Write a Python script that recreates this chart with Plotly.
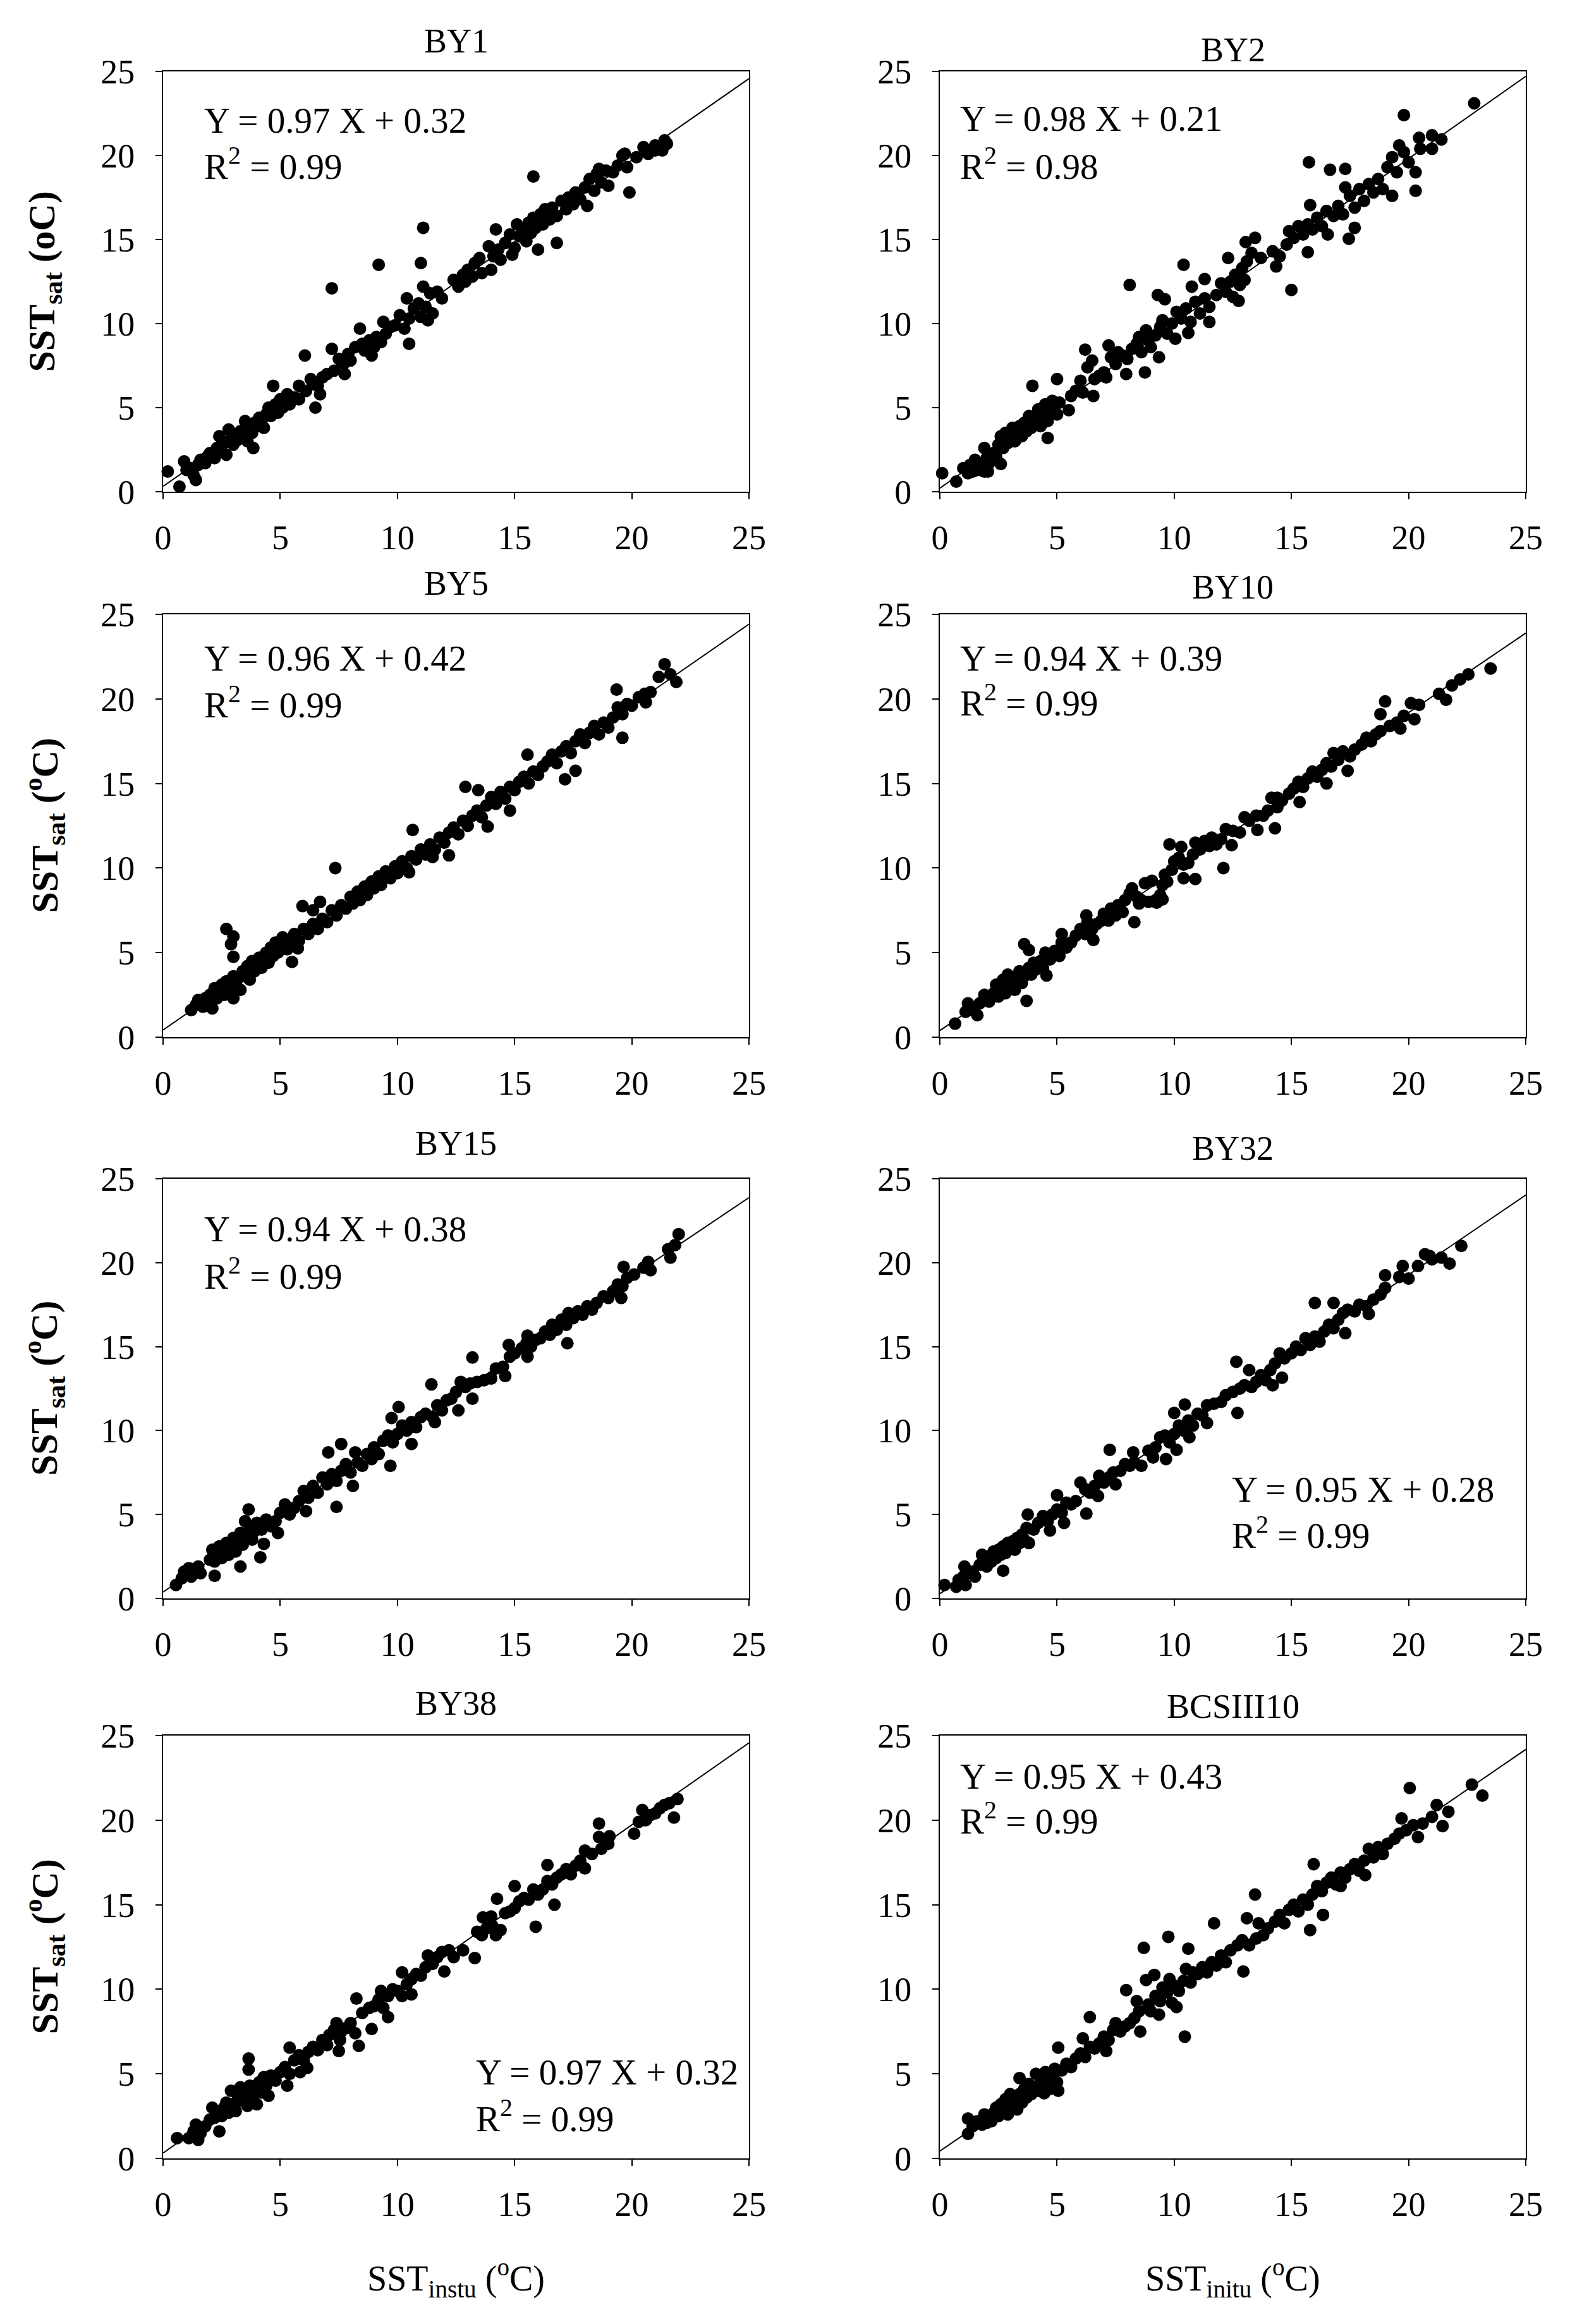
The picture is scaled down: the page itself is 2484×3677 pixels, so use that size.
import plotly.graph_objects as go

W, H = 2484, 3677

titles = ["BY1", "BY2", "BY5", "BY10", "BY15", "BY32", "BY38", "BCSIII10"]
slopes = [0.97, 0.98, 0.96, 0.94, 0.94, 0.95, 0.97, 0.95]
intercepts = [0.32, 0.21, 0.42, 0.39, 0.38, 0.28, 0.32, 0.43]
r2_values = [0.99, 0.98, 0.99, 0.99, 0.99, 0.99, 0.99, 0.99]
tick_vals = [0, 5, 10, 15, 20, 25]

# (SST in situ, SST satellite) pairs
by1 = [(0.2, 1.2), (0.7, 0.3), (0.9, 1.8), (1.4, 0.7), (15.8, 18.75), (11.1, 15.7), (9.2, 13.5),
       (11.0, 13.6), (7.2, 12.1), (7.2, 8.5), (6.05, 8.1), (6.5, 5.0), (4.7, 6.3), (3.85, 2.6),
       (19.9, 17.8), (16.8, 14.8), (16.0, 14.4), (10.5, 8.8), (7.75, 7.0), (21.4, 20.9),
       (21.0, 20.3), (19.7, 20.1), (18.6, 19.2), (11.3, 10.2), (14.9, 14.1), (14.2, 15.6),
       (1.0, 1.3), (1.2, 1.4), (1.3, 1.0), (1.5, 1.6), (1.6, 1.9), (1.8, 1.7), (1.9, 2.1),
       (2.0, 2.3), (2.2, 2.0), (2.3, 2.6), (2.4, 3.3), (2.5, 2.4), (2.6, 2.9), (2.7, 2.2),
       (2.8, 3.0), (2.8, 3.7), (3.0, 2.8), (3.1, 3.4), (3.2, 3.1), (3.3, 3.6), (3.4, 3.3),
       (3.5, 4.2), (3.6, 3.0), (3.7, 3.8), (3.8, 3.5), (3.9, 4.1), (4.0, 3.9), (4.1, 4.4),
       (4.2, 4.2), (4.3, 3.8), (4.4, 4.6), (4.5, 5.0), (4.6, 4.5), (4.7, 4.8), (4.8, 5.2),
       (4.9, 4.7), (5.0, 5.5), (5.1, 5.0), (5.2, 5.3), (5.3, 5.8), (5.4, 5.2), (5.6, 5.6),
       (5.8, 6.3), (5.8, 5.5), (6.1, 6.0), (6.3, 6.7), (6.4, 6.4), (6.6, 6.3), (6.7, 5.8),
       (6.8, 6.8), (7.0, 7.0), (7.3, 7.2), (7.5, 7.9), (7.7, 7.6), (7.9, 8.2), (8.0, 7.8),
       (8.2, 8.6), (8.4, 9.7), (8.5, 8.8), (8.6, 8.4), (8.8, 9.0), (8.9, 8.1), (9.0, 8.6),
       (9.1, 9.2), (9.3, 8.9), (9.4, 10.1), (9.5, 9.4), (9.7, 9.8), (9.9, 9.9), (10.1, 10.5),
       (10.3, 9.7), (10.4, 11.5), (10.5, 10.3), (10.7, 10.9), (10.9, 11.2), (11.0, 10.4),
       (11.1, 12.2), (11.2, 11.0), (11.4, 11.8), (11.5, 10.6), (11.7, 11.9), (11.9, 11.5),
       (12.4, 12.6), (12.6, 12.2), (12.8, 12.9), (12.9, 12.5), (13.0, 13.2), (13.2, 12.8),
       (13.3, 13.6), (13.5, 13.9), (13.6, 13.0), (13.9, 14.6), (14.0, 13.2), (14.1, 14.0),
       (14.3, 14.4), (14.4, 13.8), (14.6, 14.8), (14.8, 15.3), (15.0, 14.5), (15.1, 15.9),
       (15.2, 15.2), (15.4, 15.7), (15.5, 14.9), (15.6, 16.0), (15.7, 15.4), (15.8, 16.3),
       (15.9, 15.7), (16.1, 16.5), (16.2, 15.9), (16.3, 16.8), (16.5, 16.2), (16.6, 16.9),
       (16.8, 16.4), (17.0, 17.3), (17.2, 16.8), (17.3, 17.5), (17.5, 17.1), (17.6, 17.8),
       (17.8, 17.4), (18.0, 18.1), (18.1, 17.0), (18.2, 18.6), (18.4, 17.9), (18.5, 18.9),
       (18.7, 18.4), (18.9, 19.1), (19.0, 18.2), (19.2, 19.0), (19.4, 19.4), (19.6, 20.0),
       (19.8, 19.3), (20.2, 19.9), (20.5, 20.5), (20.7, 20.1), (21.0, 20.6), (21.3, 20.3),
       (21.5, 20.7)]

by2 = [(0.1, 1.1), (0.7, 0.6), (22.8, 23.1), (19.8, 22.4), (15.75, 19.6), (16.65, 19.15),
       (17.3, 19.2), (20.3, 17.9), (20.3, 19.0), (20.5, 20.4), (20.45, 21.05), (21.0, 21.2),
       (21.0, 20.4), (21.4, 20.95), (20.0, 19.6), (19.3, 17.6), (15.8, 17.05), (15.0, 12.0),
       (10.4, 13.5), (8.1, 12.3), (9.3, 11.7), (9.6, 11.45), (6.2, 8.45), (3.95, 6.3),
       (5.0, 6.7), (4.6, 3.2), (2.6, 1.65), (2.05, 1.2), (8.75, 7.1), (16.55, 15.3),
       (17.45, 15.05), (17.7, 15.7), (15.7, 14.25), (14.35, 13.4), (13.45, 15.1), (13.05, 14.85),
       (12.3, 13.9), (12.75, 11.35), (11.5, 10.1), (10.05, 9.1), (10.6, 9.45), (9.35, 8.0),
       (11.3, 12.65), (10.75, 12.2), (7.95, 7.0), (6.55, 5.7), (5.5, 4.85),
       (1.0, 1.4), (1.2, 1.1), (1.3, 1.6), (1.4, 1.2), (1.5, 1.9), (1.6, 1.3), (1.7, 1.5),
       (1.9, 1.2), (1.9, 2.6), (2.0, 2.0), (2.1, 1.7), (2.3, 2.3), (2.4, 2.1), (2.5, 2.8),
       (2.6, 3.3), (2.7, 2.6), (2.8, 3.5), (2.9, 2.9), (3.0, 3.2), (3.1, 3.8), (3.2, 3.0),
       (3.3, 3.5), (3.4, 3.9), (3.5, 3.3), (3.6, 4.1), (3.7, 3.6), (3.8, 4.5), (3.9, 3.8),
       (4.0, 4.3), (4.1, 4.0), (4.2, 4.9), (4.3, 3.9), (4.4, 4.6), (4.5, 5.2), (4.6, 4.2),
       (4.7, 4.8), (4.8, 5.4), (4.9, 5.1), (5.0, 4.6), (5.1, 5.3), (5.6, 5.7), (5.8, 6.0),
       (6.0, 6.6), (6.1, 5.9), (6.3, 7.4), (6.5, 7.8), (6.6, 6.7), (6.8, 6.9), (7.0, 7.1),
       (7.1, 6.8), (7.2, 8.7), (7.3, 8.0), (7.5, 7.6), (7.6, 8.3), (7.8, 8.1), (8.0, 7.9),
       (8.2, 8.5), (8.4, 8.8), (8.5, 9.2), (8.6, 8.3), (8.8, 9.6), (8.9, 9.0), (9.0, 8.6),
       (9.2, 9.3), (9.4, 9.8), (9.5, 10.2), (9.7, 9.4), (9.9, 10.0), (10.1, 10.7), (10.3, 10.3),
       (10.5, 10.9), (10.7, 10.1), (10.9, 11.3), (11.1, 10.6), (11.3, 11.5), (11.5, 11.0),
       (11.8, 11.7), (12.0, 12.4), (12.2, 11.9), (12.4, 12.5), (12.5, 11.6), (12.6, 12.9),
       (12.8, 12.3), (12.9, 13.3), (13.0, 12.6), (13.1, 13.7), (13.3, 14.2), (13.7, 13.9),
       (14.2, 14.3), (14.5, 14.0), (14.8, 14.7), (14.9, 15.5), (15.1, 15.1), (15.3, 15.8),
       (15.5, 15.3), (15.7, 15.9), (15.9, 15.6), (16.1, 16.3), (16.3, 15.8), (16.5, 16.7),
       (16.8, 16.4), (17.0, 17.0), (17.2, 16.5), (17.3, 18.1), (17.5, 17.6), (17.7, 16.9),
       (17.9, 18.0), (18.1, 17.3), (18.3, 18.3), (18.5, 17.8), (18.7, 18.6), (18.9, 18.0),
       (19.1, 19.3), (19.3, 19.9), (19.5, 19.0), (19.6, 20.6), (19.8, 20.2)]

by5 = [(2.7, 6.4), (3.0, 5.95), (2.9, 5.5), (3.0, 4.75), (1.2, 1.6), (7.35, 10.0), (5.95, 7.75),
       (6.4, 7.5), (6.7, 8.0), (5.5, 4.45), (5.75, 5.25), (10.65, 12.25), (10.5, 9.75),
       (12.9, 14.8), (13.45, 14.6), (13.85, 12.45), (15.55, 16.7), (17.15, 15.25), (17.6, 15.75),
       (19.6, 17.7), (19.35, 20.55), (21.4, 22.05), (21.15, 21.3), (21.9, 21.0), (21.65, 21.45),
       (20.55, 20.3), (14.8, 13.4), (12.2, 10.75), (11.5, 10.65),
       (1.4, 1.9), (1.5, 2.2), (1.7, 1.8), (1.8, 2.3), (1.9, 2.0), (2.0, 2.5), (2.1, 1.7),
       (2.2, 2.9), (2.3, 2.3), (2.4, 2.7), (2.5, 3.1), (2.6, 2.5), (2.7, 3.3), (2.8, 2.8),
       (2.9, 3.0), (3.0, 2.3), (3.0, 3.6), (3.1, 3.2), (3.2, 3.5), (3.3, 2.8), (3.4, 3.9),
       (3.5, 3.6), (3.6, 4.2), (3.7, 3.4), (3.8, 4.5), (3.9, 3.9), (4.0, 4.3), (4.1, 4.7),
       (4.2, 4.1), (4.3, 4.6), (4.4, 5.0), (4.5, 4.4), (4.6, 5.3), (4.7, 4.8), (4.8, 5.6),
       (4.9, 5.0), (5.0, 5.4), (5.1, 5.9), (5.3, 5.2), (5.4, 5.7), (5.6, 6.1), (5.8, 5.7),
       (6.0, 6.4), (6.2, 6.1), (6.4, 6.7), (6.6, 6.4), (6.8, 7.0), (7.0, 6.8), (7.2, 7.5),
       (7.4, 7.2), (7.6, 7.8), (7.8, 7.6), (8.0, 8.3), (8.1, 7.9), (8.3, 8.6), (8.4, 8.1),
       (8.6, 8.9), (8.7, 8.4), (8.9, 9.2), (9.0, 8.8), (9.2, 9.5), (9.3, 9.0), (9.5, 9.8),
       (9.7, 9.4), (9.9, 10.1), (10.0, 9.7), (10.2, 10.4), (10.4, 10.0), (10.6, 10.7),
       (10.8, 10.5), (11.0, 11.1), (11.2, 10.8), (11.4, 11.4), (11.6, 11.1), (11.8, 11.8),
       (12.0, 11.5), (12.2, 12.1), (12.4, 12.4), (12.6, 12.0), (12.8, 12.8), (13.0, 12.5),
       (13.2, 13.1), (13.4, 13.4), (13.6, 13.0), (13.8, 13.7), (14.0, 14.2), (14.2, 13.8),
       (14.4, 14.5), (14.6, 14.1), (14.8, 14.8), (15.0, 14.6), (15.2, 15.1), (15.4, 15.4),
       (15.6, 15.0), (15.8, 15.7), (16.0, 15.5), (16.2, 16.0), (16.4, 16.3), (16.6, 16.7),
       (16.8, 16.2), (17.0, 16.9), (17.2, 17.2), (17.4, 16.8), (17.6, 17.5), (17.8, 17.9),
       (18.0, 17.4), (18.2, 18.0), (18.4, 18.4), (18.6, 17.9), (18.8, 18.6), (19.0, 18.3),
       (19.2, 18.9), (19.4, 19.5), (19.6, 19.1), (19.8, 19.7), (20.0, 19.6), (20.3, 20.1),
       (20.6, 19.8), (20.8, 20.4)]

by10 = [(0.65, 0.8), (3.7, 2.15), (3.6, 5.5), (3.8, 5.15), (4.55, 3.65), (23.5, 21.8),
        (22.55, 21.45), (22.2, 21.15), (21.85, 20.8), (21.3, 20.3), (21.6, 19.95), (19.0, 19.85),
        (18.8, 19.1), (19.65, 18.25), (20.25, 18.8), (20.45, 19.65), (20.1, 19.75), (17.4, 15.75),
        (16.5, 15.0), (15.35, 13.9), (14.15, 14.15), (14.4, 14.15), (14.3, 12.35), (13.55, 12.25),
        (12.1, 10.0), (12.45, 11.35), (9.8, 11.4), (10.3, 11.25), (10.4, 9.4), (10.9, 9.35),
        (8.3, 6.8), (8.75, 9.1), (9.05, 9.25), (9.5, 8.15), (9.25, 7.95), (8.5, 7.9),
        (6.55, 5.75), (6.25, 7.2), (5.2, 6.1),
        (1.1, 1.5), (1.2, 2.0), (1.4, 1.6), (1.6, 1.3), (1.7, 2.0), (1.9, 2.5), (2.1, 2.1),
        (2.3, 2.6), (2.4, 3.1), (2.5, 2.4), (2.6, 2.9), (2.7, 3.4), (2.8, 2.6), (2.9, 3.7),
        (3.0, 3.0), (3.1, 3.5), (3.2, 2.8), (3.3, 3.3), (3.4, 3.9), (3.5, 3.2), (3.6, 3.6),
        (3.8, 4.1), (3.9, 3.7), (4.0, 4.4), (4.1, 4.0), (4.3, 4.5), (4.4, 4.1), (4.5, 5.0),
        (4.7, 4.6), (4.9, 5.1), (5.1, 4.8), (5.2, 5.6), (5.4, 5.3), (5.6, 5.6), (5.8, 6.0),
        (6.0, 6.4), (6.2, 6.1), (6.3, 6.8), (6.5, 6.4), (6.7, 6.7), (6.9, 6.9), (7.0, 7.3),
        (7.2, 6.9), (7.3, 7.6), (7.5, 7.2), (7.6, 7.8), (7.8, 7.4), (7.9, 8.1), (8.1, 8.5),
        (8.2, 8.8), (8.4, 8.3), (8.6, 8.1), (8.9, 8.0), (9.2, 8.1), (9.4, 8.4), (9.5, 9.0),
        (9.6, 9.6), (9.7, 9.2), (9.9, 9.9), (10.0, 10.4), (10.2, 10.6), (10.4, 10.2),
        (10.6, 10.3), (10.8, 10.8), (10.9, 11.5), (11.1, 11.1), (11.3, 11.6), (11.5, 11.3),
        (11.6, 11.8), (11.8, 11.4), (12.0, 11.7), (12.2, 12.3), (12.5, 12.2), (12.8, 12.1),
        (13.0, 13.0), (13.2, 12.8), (13.5, 13.1), (13.8, 13.1), (14.0, 13.4), (14.4, 13.6),
        (14.6, 14.0), (14.9, 14.4), (15.1, 14.7), (15.3, 15.1), (15.5, 14.8), (15.7, 15.3),
        (15.9, 15.7), (16.1, 15.4), (16.3, 15.8), (16.5, 16.2), (16.7, 16.0), (16.8, 16.8),
        (17.0, 16.4), (17.2, 16.9), (17.5, 16.6), (17.7, 17.0), (18.0, 17.3), (18.2, 17.7),
        (18.4, 17.5), (18.6, 17.9), (18.8, 18.1), (19.2, 18.4), (19.5, 18.6), (19.8, 19.0)]

by15 = [(0.55, 0.8), (2.2, 1.35), (3.3, 1.9), (4.15, 2.45), (4.3, 3.25), (3.65, 5.3), (7.4, 5.45),
        (8.1, 6.7), (7.05, 8.7), (7.6, 9.2), (8.2, 8.7), (9.7, 7.9), (10.6, 9.2), (10.05, 11.4),
        (9.75, 10.75), (11.45, 12.75), (11.6, 10.5), (12.6, 11.2), (13.2, 14.35), (13.2, 11.9),
        (14.75, 15.1), (14.6, 13.25), (15.55, 14.4), (15.55, 15.65), (17.25, 15.2), (19.65, 19.75),
        (19.55, 17.9), (20.8, 19.55), (20.7, 20.05), (21.55, 20.8), (22.0, 21.7), (21.85, 21.05),
        (21.65, 20.3),
        (0.8, 1.2), (0.9, 1.6), (1.0, 1.4), (1.1, 1.8), (1.2, 1.3), (1.3, 1.6), (1.5, 1.9),
        (1.6, 1.5), (2.0, 2.3), (2.1, 2.9), (2.2, 2.2), (2.3, 2.6), (2.4, 3.1), (2.5, 2.4),
        (2.6, 2.8), (2.7, 3.3), (2.8, 2.6), (2.9, 3.0), (3.0, 3.6), (3.1, 2.8), (3.2, 3.3),
        (3.3, 3.9), (3.4, 3.2), (3.5, 4.6), (3.6, 3.7), (3.7, 4.2), (3.8, 3.5), (3.9, 4.0),
        (4.0, 4.5), (4.2, 4.1), (4.4, 4.7), (4.6, 4.3), (4.8, 4.6), (4.9, 3.9), (5.0, 5.1),
        (5.2, 5.6), (5.4, 5.0), (5.6, 5.4), (5.8, 5.8), (6.0, 6.4), (6.1, 5.2), (6.2, 6.0),
        (6.4, 6.7), (6.6, 6.3), (6.8, 7.2), (7.0, 6.8), (7.2, 7.4), (7.4, 7.0), (7.6, 7.6),
        (7.8, 8.0), (8.0, 7.5), (8.3, 8.1), (8.5, 7.9), (8.7, 8.6), (8.9, 8.3), (9.0, 9.0),
        (9.2, 8.6), (9.4, 9.4), (9.6, 9.7), (9.8, 9.3), (10.0, 9.8), (10.2, 10.3), (10.4, 10.0),
        (10.6, 10.5), (10.8, 10.2), (11.0, 10.8), (11.2, 11.0), (11.5, 10.8), (11.7, 11.5),
        (11.9, 11.2), (12.1, 11.8), (12.3, 11.9), (12.5, 12.3), (12.7, 12.9), (12.9, 12.6),
        (13.1, 12.8), (13.4, 12.9), (13.7, 13.0), (14.0, 13.1), (14.2, 13.7), (14.5, 13.8),
        (14.8, 14.4), (15.0, 14.6), (15.3, 14.9), (15.5, 15.2), (15.7, 15.0), (15.9, 15.4),
        (16.1, 15.5), (16.3, 15.9), (16.5, 15.7), (16.6, 16.3), (16.8, 16.0), (17.0, 16.6),
        (17.2, 16.3), (17.3, 17.0), (17.5, 16.7), (17.7, 17.1), (17.9, 16.9), (18.1, 17.4),
        (18.3, 17.2), (18.5, 17.6), (18.8, 18.0), (19.0, 17.9), (19.2, 18.3), (19.4, 18.7),
        (19.6, 18.6), (19.8, 19.1), (20.1, 19.3), (20.5, 19.7)]

by32 = [(0.2, 0.8), (0.7, 0.7), (1.1, 0.8), (1.05, 1.9), (2.7, 1.65), (3.75, 5.0), (4.7, 4.05),
        (5.3, 4.5), (5.0, 6.15), (6.25, 5.05), (6.75, 6.1), (7.25, 8.85), (8.25, 8.7), (9.1, 8.4),
        (9.65, 8.3), (10.1, 8.85), (10.65, 9.6), (11.4, 10.45), (12.65, 14.1), (12.7, 11.05),
        (13.2, 13.6), (14.2, 12.7), (14.6, 13.15), (16.0, 17.6), (16.8, 17.6), (17.3, 15.8),
        (18.3, 16.95), (19.0, 19.25), (19.6, 19.15), (20.0, 19.05), (19.75, 19.8), (20.7, 20.5),
        (21.75, 19.95), (22.25, 21.0), (21.4, 20.3), (20.9, 20.4), (10.0, 11.05), (10.45, 11.55),
        (0.8, 1.1), (1.0, 1.3), (1.2, 1.5), (1.4, 1.6), (1.5, 1.3), (1.7, 2.0), (1.8, 2.6),
        (1.9, 2.2), (2.0, 1.9), (2.1, 2.5), (2.2, 2.2), (2.3, 2.8), (2.4, 2.4), (2.5, 2.9),
        (2.6, 2.6), (2.7, 3.1), (2.8, 2.7), (2.9, 3.3), (3.0, 3.0), (3.1, 3.4), (3.2, 2.9),
        (3.3, 3.6), (3.4, 3.3), (3.5, 3.8), (3.6, 3.5), (3.7, 4.2), (3.8, 3.3), (4.0, 4.1),
        (4.2, 4.5), (4.4, 4.9), (4.6, 4.6), (4.8, 5.0), (5.0, 5.3), (5.2, 5.1), (5.4, 5.7),
        (5.6, 5.6), (5.8, 5.8), (6.0, 6.9), (6.2, 6.5), (6.4, 6.3), (6.6, 6.7), (6.8, 7.3),
        (7.0, 6.9), (7.2, 7.2), (7.4, 7.5), (7.5, 6.8), (7.7, 7.6), (7.9, 8.0), (8.1, 7.9),
        (8.3, 8.1), (8.6, 7.9), (8.9, 8.8), (9.2, 9.0), (9.4, 9.6), (9.6, 9.7), (9.8, 9.3),
        (10.0, 9.8), (10.2, 10.3), (10.4, 10.0), (10.6, 10.6), (10.8, 10.3), (11.0, 11.0),
        (11.2, 10.9), (11.4, 11.5), (11.7, 11.6), (12.0, 11.7), (12.2, 12.1), (12.5, 12.3),
        (12.8, 12.5), (13.0, 12.7), (13.3, 12.6), (13.5, 12.9), (13.7, 13.3), (13.9, 13.0),
        (14.1, 13.6), (14.3, 14.0), (14.5, 14.6), (14.7, 14.3), (15.0, 14.6), (15.2, 15.0),
        (15.4, 14.8), (15.6, 15.5), (15.8, 15.1), (16.0, 15.6), (16.2, 15.3), (16.4, 15.9),
        (16.6, 16.3), (16.8, 16.1), (17.0, 16.6), (17.2, 17.0), (17.4, 17.2), (17.7, 17.1),
        (17.9, 17.5), (18.2, 17.4), (18.5, 17.8), (18.8, 18.1), (19.0, 18.5), (20.4, 19.8),
        (21.0, 20.2)]

by38 = [(0.6, 1.2), (2.4, 1.6), (3.65, 5.9), (3.65, 5.25), (5.3, 4.3), (5.4, 6.55), (5.85, 5.1),
        (6.15, 5.35), (7.5, 6.35), (7.55, 7.0), (8.25, 9.45), (8.35, 6.65), (8.9, 7.65),
        (9.6, 8.35), (10.6, 9.7), (10.2, 11.0), (12.0, 11.05), (13.3, 11.85), (14.25, 15.35),
        (13.65, 14.25), (14.05, 13.75), (15.0, 16.1), (15.9, 13.7), (16.7, 15.0), (16.4, 17.35),
        (18.6, 19.8), (18.6, 19.0), (19.05, 19.05), (20.1, 19.2), (20.45, 20.6), (21.8, 20.15),
        (21.95, 21.25), (18.0, 17.15),
        (1.1, 1.2), (1.3, 1.6), (1.4, 2.0), (1.5, 1.1), (1.6, 1.5), (1.8, 1.9), (2.0, 2.3),
        (2.1, 3.0), (2.2, 2.4), (2.3, 2.8), (2.5, 2.5), (2.6, 3.0), (2.7, 3.3), (2.8, 2.7),
        (2.9, 4.0), (3.0, 3.2), (3.1, 2.8), (3.2, 3.6), (3.3, 4.2), (3.4, 3.4), (3.5, 3.8),
        (3.6, 3.1), (3.7, 4.3), (3.8, 3.7), (3.9, 4.1), (4.0, 3.2), (4.1, 4.5), (4.2, 3.9),
        (4.3, 4.8), (4.4, 4.3), (4.5, 3.7), (4.6, 4.9), (4.8, 4.6), (5.0, 5.1), (5.2, 5.4),
        (5.4, 5.0), (5.6, 5.8), (5.8, 6.1), (6.0, 5.8), (6.2, 6.3), (6.4, 6.6), (6.6, 6.4),
        (6.8, 7.0), (7.0, 6.7), (7.1, 7.3), (7.3, 7.6), (7.4, 8.0), (7.6, 7.5), (7.8, 7.7),
        (8.0, 8.0), (8.2, 7.4), (8.5, 8.6), (8.8, 8.9), (9.0, 9.0), (9.2, 9.4), (9.3, 9.9),
        (9.4, 8.9), (9.6, 9.6), (9.8, 10.0), (10.0, 9.9), (10.2, 9.6), (10.4, 10.3),
        (10.6, 10.6), (10.8, 10.9), (11.0, 10.8), (11.2, 11.3), (11.3, 12.0), (11.5, 11.5),
        (11.7, 11.9), (11.9, 12.2), (12.2, 12.3), (12.4, 11.9), (12.8, 12.3), (13.4, 13.4),
        (13.6, 13.2), (13.8, 13.6), (14.0, 14.3), (14.2, 13.2), (14.4, 13.5), (14.6, 14.5),
        (14.8, 14.6), (15.0, 14.8), (15.2, 15.2), (15.4, 15.4), (15.6, 15.3), (15.8, 15.9),
        (16.0, 15.6), (16.2, 15.9), (16.4, 16.4), (16.6, 16.2), (16.8, 16.6), (17.0, 16.8),
        (17.2, 17.1), (17.4, 16.8), (17.6, 17.3), (17.8, 17.6), (18.0, 18.2), (18.3, 18.0),
        (18.7, 18.3), (19.0, 18.6), (20.3, 19.9), (20.6, 20.0), (20.8, 20.3), (21.0, 20.4),
        (21.2, 20.7), (21.4, 20.9), (21.6, 21.0)]

bcsiii10 = [(1.2, 1.45), (1.2, 2.35), (22.7, 22.1), (23.15, 21.45), (20.05, 21.9), (19.7, 20.1),
            (20.4, 19.0), (21.45, 19.65), (21.2, 20.9), (21.7, 20.5), (15.95, 17.4), (13.45, 15.6),
            (13.6, 13.9), (13.1, 14.2), (11.7, 13.9), (9.75, 13.1), (8.7, 12.45), (10.6, 12.4),
            (7.95, 9.95), (6.4, 8.35), (10.45, 7.2), (8.55, 7.5), (7.1, 6.35), (5.05, 6.55),
            (16.35, 14.4), (15.8, 13.5), (17.1, 16.1), (18.15, 16.75), (12.95, 11.05), (9.15, 10.85),
            (8.8, 10.55), (8.4, 9.3), (10.1, 8.95), (9.35, 8.5), (5.05, 4.0), (4.45, 3.85),
            (3.4, 4.75),
            (1.4, 1.9), (1.6, 2.2), (1.8, 2.0), (1.9, 2.6), (2.0, 2.1), (2.1, 2.5), (2.2, 2.2),
            (2.3, 2.7), (2.4, 3.0), (2.5, 2.5), (2.6, 3.2), (2.7, 2.8), (2.8, 3.5), (2.9, 2.6),
            (3.0, 3.8), (3.1, 3.1), (3.2, 3.5), (3.3, 2.9), (3.4, 3.8), (3.5, 3.3), (3.6, 4.1),
            (3.7, 3.6), (3.8, 4.4), (3.9, 3.8), (4.0, 4.2), (4.1, 5.0), (4.2, 4.0), (4.3, 4.6),
            (4.4, 4.3), (4.5, 5.1), (4.6, 4.6), (4.7, 4.1), (4.8, 4.9), (4.9, 5.3), (5.0, 4.5),
            (5.2, 5.2), (5.4, 5.6), (5.6, 5.4), (5.8, 5.9), (6.0, 6.2), (6.1, 7.1), (6.2, 6.0),
            (6.4, 6.6), (6.6, 6.5), (6.8, 6.8), (7.0, 7.2), (7.2, 7.0), (7.4, 7.6), (7.5, 8.0),
            (7.7, 7.5), (7.9, 7.8), (8.1, 8.0), (8.3, 8.3), (8.5, 8.7), (8.9, 9.1), (9.0, 8.7),
            (9.2, 9.6), (9.4, 9.3), (9.5, 10.1), (9.7, 9.8), (9.8, 10.6), (9.9, 9.2), (10.0, 10.2),
            (10.2, 9.9), (10.4, 10.5), (10.5, 11.2), (10.7, 10.4), (10.8, 11.0), (11.0, 10.9),
            (11.2, 11.3), (11.4, 11.0), (11.6, 11.6), (11.8, 11.4), (12.0, 12.0), (12.2, 11.6),
            (12.4, 12.3), (12.7, 12.6), (12.9, 12.9), (13.2, 12.6), (13.5, 13.0), (13.8, 13.2),
            (14.0, 13.6), (14.3, 14.0), (14.5, 14.4), (14.7, 13.9), (14.9, 14.7), (15.1, 15.0),
            (15.3, 14.6), (15.5, 15.3), (15.7, 15.0), (15.9, 15.6), (16.1, 16.1), (16.3, 15.8),
            (16.5, 16.3), (16.7, 16.6), (16.9, 16.2), (17.1, 16.9), (17.3, 16.6), (17.5, 17.1),
            (17.7, 17.4), (17.9, 17.0), (18.1, 17.6), (18.3, 18.3), (18.5, 17.8), (18.7, 18.4),
            (18.9, 18.0), (19.1, 18.6), (19.4, 18.9), (19.6, 19.2), (19.9, 19.4), (20.2, 19.7),
            (20.6, 19.8), (21.0, 20.2)]

panels = [by1, by2, by5, by10, by15, by32, by38, bcsiii10]

# equation text anchor (x, y of first line, y of R2 line) in data units
eq_pos = [(1.7, 22.1, 19.5), (0.8, 22.2, 19.5), (1.7, 22.4, 19.8), (0.8, 22.4, 19.9),
          (1.7, 22.0, 19.35), (12.4, 6.5, 3.9), (13.3, 5.1, 2.5), (0.8, 22.6, 20.1)]

# plot areas in page pixels
col_px = [(258, 1185), (1487, 2414)]
row_px = [(113, 778), (972, 1641), (1865, 2529), (2746, 3415)]
title_gap = [(48, 34), (49, 43), (56, 48), (51, 46)]

FONT = "Liberation Serif"
BODY = 8  # page body margin that offsets the plot div


def px(x):
    return (x - BODY) / W


def py(y):
    return 1 - (y - BODY) / H


fig = go.Figure()
annotations = []

for i, pts in enumerate(panels):
    r, c = i // 2, i % 2
    n = "" if i == 0 else str(i + 1)
    xs = [p[0] for p in pts]
    ys = [p[1] for p in pts]
    fig.add_trace(go.Scatter(x=xs, y=ys, mode="markers", xaxis="x" + n, yaxis="y" + n,
                             marker=dict(color="black", size=20, line=dict(width=0)),
                             cliponaxis=False, hoverinfo="skip"))
    fig.add_trace(go.Scatter(x=[0, 25], y=[intercepts[i], slopes[i] * 25 + intercepts[i]],
                             mode="lines", xaxis="x" + n, yaxis="y" + n,
                             line=dict(color="black", width=2), hoverinfo="skip"))

    x0, x1 = col_px[c]
    top, bot = row_px[r]
    common = dict(range=[0, 25], autorange=False, tickvals=tick_vals, showgrid=False, zeroline=False,
                  showline=True, mirror=True, linecolor="black", linewidth=2, automargin=False,
                  ticks="outside", ticklen=10, tickwidth=2, tickcolor="black",
                  tickfont=dict(family=FONT, size=54, color="black"))
    fig.layout["xaxis" + n] = dict(domain=[px(x0), px(x1)], anchor="y" + n,
                                   ticklabelstandoff=14, **common)
    fig.layout["yaxis" + n] = dict(domain=[py(bot), py(top)], anchor="x" + n,
                                   ticklabelstandoff=22, **common)

    # panel title
    annotations.append(dict(text=titles[i], xref="paper", yref="paper",
                            x=px((x0 + x1) / 2), y=py(top - title_gap[r][c]),
                            xanchor="center", yanchor="middle", showarrow=False,
                            font=dict(family=FONT, size=54, color="black")))
    # regression equation
    ex, ey1, ey2 = eq_pos[i]
    annotations.append(dict(text=f"Y = {slopes[i]:.2f} X + {intercepts[i]:.2f}",
                            xref="x" + n, yref="y" + n, x=ex, y=ey1,
                            xanchor="left", yanchor="middle", showarrow=False,
                            font=dict(family=FONT, size=57, color="black")))
    annotations.append(dict(text=f"R<sup>2</sup> = {r2_values[i]:.2f}",
                            xref="x" + n, yref="y" + n, x=ex, y=ey2,
                            xanchor="left", yanchor="middle", showarrow=False,
                            font=dict(family=FONT, size=57, color="black")))

# y-axis titles (left column)
for r, (top, bot) in enumerate(row_px):
    unit = "(oC)" if r == 0 else "(<sup>o</sup>C)"
    annotations.append(dict(text=f"<b>SST<sub>sat</sub> {unit}</b>", xref="paper", yref="paper",
                            x=px(70), y=py((top + bot) / 2), textangle=-90,
                            xanchor="center", yanchor="middle", showarrow=False,
                            font=dict(family=FONT, size=60, color="black")))

# x-axis titles (bottom row)
for c, sub in enumerate(["instu", "initu"]):
    x0, x1 = col_px[c]
    annotations.append(dict(text=f"SST<sub>{sub}</sub> (<sup>o</sup>C)", xref="paper", yref="paper",
                            x=px((x0 + x1) / 2), y=py(3604), xanchor="center", yanchor="middle",
                            showarrow=False, font=dict(family=FONT, size=56, color="black")))

fig.update_layout(width=W, height=H, margin=dict(l=0, r=0, t=0, b=0, autoexpand=False),
                  paper_bgcolor="white", plot_bgcolor="white", showlegend=False,
                  annotations=annotations)

fig.write_html("out.html")
